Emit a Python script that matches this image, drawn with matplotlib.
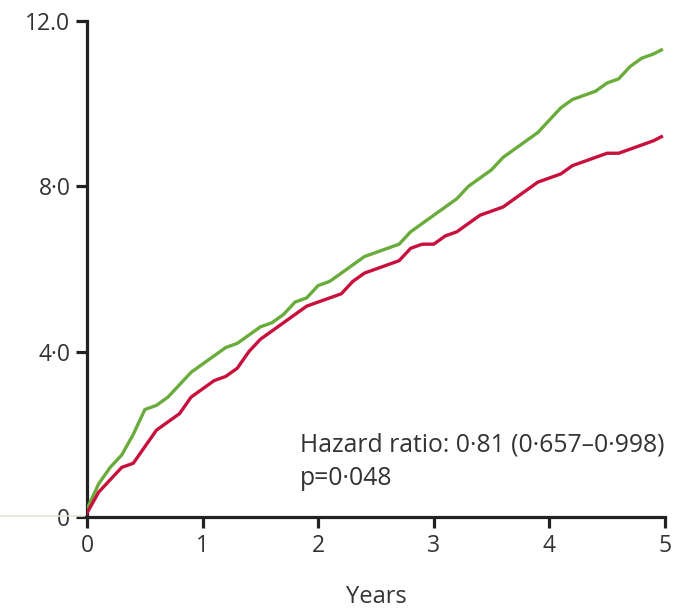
import matplotlib.pyplot as plt
import matplotlib.lines as mlines

# cumulative incidence (%), every 0.1 year
years = [0.0, 0.1, 0.2, 0.3, 0.4, 0.5, 0.6, 0.7, 0.8, 0.9,
         1.0, 1.1, 1.2, 1.3, 1.4, 1.5, 1.6, 1.7, 1.8, 1.9,
         2.0, 2.1, 2.2, 2.3, 2.4, 2.5, 2.6, 2.7, 2.8, 2.9,
         3.0, 3.1, 3.2, 3.3, 3.4, 3.5, 3.6, 3.7, 3.8, 3.9,
         4.0, 4.1, 4.2, 4.3, 4.4, 4.5, 4.6, 4.7, 4.8, 4.9, 4.97]
green = [0.2, 0.8, 1.2, 1.5, 2.0, 2.6, 2.7, 2.9, 3.2, 3.5,
         3.7, 3.9, 4.1, 4.2, 4.4, 4.6, 4.7, 4.9, 5.2, 5.3,
         5.6, 5.7, 5.9, 6.1, 6.3, 6.4, 6.5, 6.6, 6.9, 7.1,
         7.3, 7.5, 7.7, 8.0, 8.2, 8.4, 8.7, 8.9, 9.1, 9.3,
         9.6, 9.9, 10.1, 10.2, 10.3, 10.5, 10.6, 10.9, 11.1, 11.2, 11.3]
red = [0.1, 0.6, 0.9, 1.2, 1.3, 1.7, 2.1, 2.3, 2.5, 2.9,
       3.1, 3.3, 3.4, 3.6, 4.0, 4.3, 4.5, 4.7, 4.9, 5.1,
       5.2, 5.3, 5.4, 5.7, 5.9, 6.0, 6.1, 6.2, 6.5, 6.6,
       6.6, 6.8, 6.9, 7.1, 7.3, 7.4, 7.5, 7.7, 7.9, 8.1,
       8.2, 8.3, 8.5, 8.6, 8.7, 8.8, 8.8, 8.9, 9.0, 9.1, 9.2]

yticks = [0, 4, 8, 12]
ytick_labels = ['0', '4·0', '8·0', '12.0']
xticks = [0, 1, 2, 3, 4, 5]

plt.rcParams['font.family'] = ['Open Sans', 'DejaVu Sans']

fig = plt.figure(figsize=(6.75, 6.08), dpi=100)
ax = fig.add_axes([0.129, 0.1497, 0.856, 0.8158])

ax.plot(years, green, color='#6aac3c', lw=2.4, zorder=3)
ax.plot(years, red, color='#c8103c', lw=2.4, zorder=3)

ax.set_xlim(0, 5)
ax.set_ylim(0, 12)
ax.set_xticks(xticks)
ax.set_xticklabels([str(x) for x in xticks])
ax.set_yticks(yticks)
ax.set_yticklabels(ytick_labels)

for s in ['top', 'right']:
    ax.spines[s].set_visible(False)
for s in ['left', 'bottom']:
    ax.spines[s].set_linewidth(2.3)
    ax.spines[s].set_color('#222222')
    ax.spines[s].set_capstyle('projecting')

ax.tick_params(axis='both', length=8, width=2.3, color='#222222',
               labelsize=16.5, labelcolor='#333333', pad=4)
ax.set_xlabel('Years', fontsize=17, color='#333333', labelpad=20)

ax.text(1.84, 1.74, 'Hazard ratio: 0·81 (0·657–0·998)', fontsize=17.8,
        color='#333333', ha='left', va='center')
ax.text(1.84, 0.94, 'p=0·048', fontsize=17.8, color='#333333',
        ha='left', va='center')

# faint scan artefact at the lower left
fig.add_artist(mlines.Line2D([0.0, 0.125], [0.151, 0.151], color='#dfe6d6', lw=1.2))

fig.savefig('out.png', dpi=100)
